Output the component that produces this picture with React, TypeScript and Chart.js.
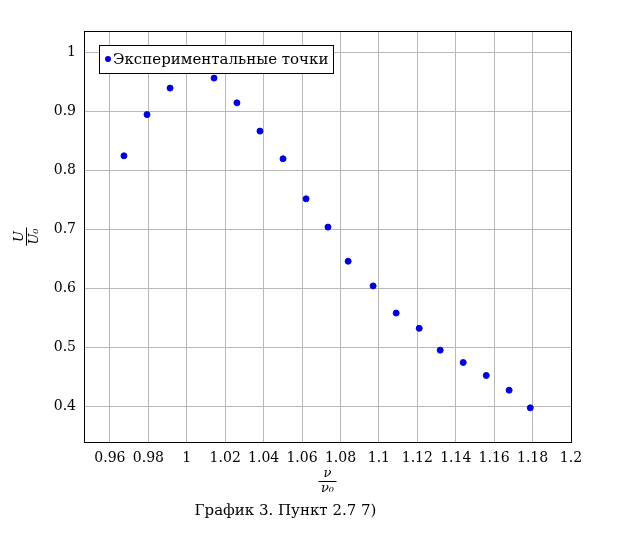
import { useEffect, useRef } from "react";
import Chart from "chart.js/auto";

const nu = [0.9673, 0.9793, 0.9913, 1.0142, 1.0261, 1.0381, 1.0501, 1.0621, 1.0735, 1.084, 1.097, 1.109, 1.121, 1.1319, 1.1439, 1.1559, 1.1678, 1.1788];
const u = [0.825, 0.895, 0.94, 0.957, 0.915, 0.867, 0.82, 0.752, 0.704, 0.646, 0.604, 0.558, 0.532, 0.495, 0.474, 0.452, 0.427, 0.397];
const xTicks = [0.96, 0.98, 1, 1.02, 1.04, 1.06, 1.08, 1.1, 1.12, 1.14, 1.16, 1.18, 1.2];
const yTicks = [0.4, 0.5, 0.6, 0.7, 0.8, 0.9, 1];
const seriesLabel = "Экспериментальные точки";
const caption = "График 3. Пункт 2.7 7)";

const FONT = "'DejaVu Serif', 'Liberation Serif', serif";

const frameAndLegend = {
  id: "frameAndLegend",
  afterDraw(chart: any) {
    const { ctx, chartArea: a } = chart;
    ctx.save();
    ctx.strokeStyle = "#000";
    ctx.lineWidth = 1;
    ctx.strokeRect(a.left + 0.5, a.top + 0.5, a.right - a.left, a.bottom - a.top);
    // legend box
    const x = a.left + 15, y = a.top + 14, w = 234, h = 28;
    ctx.fillStyle = "#fff";
    ctx.fillRect(x, y, w, h);
    ctx.strokeRect(x + 0.5, y + 0.5, w, h);
    ctx.fillStyle = "#0000dd";
    ctx.beginPath();
    ctx.arc(x + 9, y + h / 2, 3, 0, Math.PI * 2);
    ctx.fill();
    ctx.fillStyle = "#000";
    ctx.font = `15px ${FONT}`;
    ctx.textBaseline = "middle";
    ctx.fillText(seriesLabel, x + 14, y + h / 2 + 1);
    // y title
    ctx.translate(26, (a.top + a.bottom) / 2);
    ctx.rotate(-Math.PI / 2);
    ctx.textAlign = "center";
    ctx.font = `italic 13px ${FONT}`;
    ctx.fillText("U", 0, -6);
    ctx.fillRect(-9, 0, 18, 1);
    ctx.fillText("U₀", 0, 9);
    ctx.restore();
    // x title
    ctx.save();
    const cx = a.left + (a.right - a.left) / 2;
    ctx.fillStyle = "#000";
    ctx.textAlign = "center";
    ctx.textBaseline = "middle";
    ctx.font = `italic 13px ${FONT}`;
    ctx.fillText("ν", cx, 474);
    ctx.fillRect(cx - 9, 481, 18, 1);
    ctx.fillText("ν₀", cx, 489);
    ctx.restore();
  },
};

const App = () => {
  const canvasRef = useRef<HTMLCanvasElement>(null);
  const chartRef = useRef<Chart | null>(null);

  useEffect(() => {
    document.body.style.margin = "0";
    if (!canvasRef.current) return;
    if (chartRef.current) chartRef.current.destroy();
    chartRef.current = new Chart(canvasRef.current, {
      type: "scatter",
      data: {
        datasets: [
          {
            label: seriesLabel,
            data: nu.map((x, i) => ({ x, y: u[i] })),
            backgroundColor: "#0000dd",
            borderColor: "#0000dd",
            pointRadius: 3,
          },
        ],
      },
      options: {
        responsive: false,
        animation: false,
        layout: { padding: { left: 0, right: 66, top: 31, bottom: 0 } },
        plugins: {
          legend: { display: false },
          tooltip: { enabled: false },
          title: {
            display: true,
            position: "bottom",
            text: caption,
            color: "#000",
            font: { family: FONT, size: 15, weight: "normal" },
            padding: { top: 0, bottom: 31 },
          },
        },
        scales: {
          x: {
            type: "linear",
            min: 0.9465,
            max: 1.2,
            afterBuildTicks: (s: any) => {
              s.ticks = xTicks.map((v) => ({ value: v }));
            },
            afterFit: (s: any) => {
              s.height = 60;
            },
            ticks: {
              color: "#000",
              font: { family: FONT, size: 14 },
              maxRotation: 0,
              autoSkip: false,
              callback: (v: any) => String(v),
              padding: 8,
            },
            grid: { color: "#b8b8b8", drawTicks: false },
            border: { display: false },
          },
          y: {
            min: 0.339,
            max: 1.037,
            afterBuildTicks: (s: any) => {
              s.ticks = yTicks.map((v) => ({ value: v }));
            },
            afterFit: (s: any) => {
              s.width = 84;
            },
            ticks: {
              color: "#000",
              font: { family: FONT, size: 14 },
              callback: (v: any) => String(v),
              padding: 8,
            },
            grid: { color: "#b8b8b8", drawTicks: false },
            border: { display: false },
          },
        },
      },
      plugins: [frameAndLegend],
    });
    return () => {
      if (chartRef.current) {
        chartRef.current.destroy();
        chartRef.current = null;
      }
    };
  }, []);

  return <canvas ref={canvasRef} width={637} height={551} />;
};

export default App;
